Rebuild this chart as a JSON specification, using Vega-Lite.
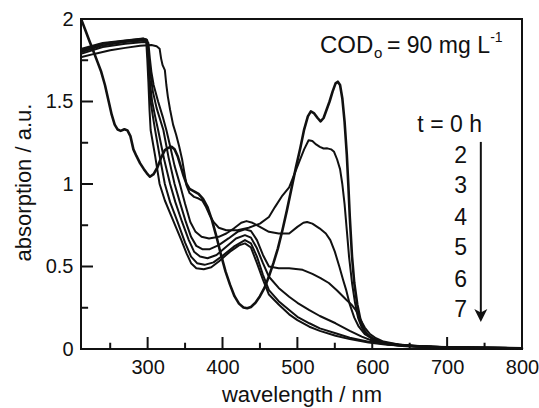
{
  "$schema": "https://vega.github.io/schema/vega-lite/v6.json",
  "width": 441,
  "height": 330,
  "autosize": {"type": "none"},
  "padding": {"left": 81, "top": 19, "right": 17, "bottom": 59},
  "background": "white",
  "config": {
    "view": {"stroke": "#111", "strokeWidth": 2},
    "font": "Liberation Sans",
    "axis": {"domain": false, "grid": false, "labelColor": "#111", "titleColor": "#111"}
  },
  "datasets": {
    "spectra": [
      {"t":0,"wl":212,"a":1.99},{"t":0,"wl":217,"a":1.93},{"t":0,"wl":222,"a":1.87},{"t":0,"wl":228,"a":1.80},{"t":0,"wl":233,"a":1.74},{"t":0,"wl":238,"a":1.68},{"t":0,"wl":243,"a":1.60},{"t":0,"wl":248,"a":1.50},{"t":0,"wl":252,"a":1.42},{"t":0,"wl":256,"a":1.36},{"t":0,"wl":260,"a":1.33},{"t":0,"wl":264,"a":1.322},{"t":0,"wl":269,"a":1.332},{"t":0,"wl":273,"a":1.325},{"t":0,"wl":277,"a":1.29},{"t":0,"wl":281,"a":1.21},{"t":0,"wl":285,"a":1.17},{"t":0,"wl":290,"a":1.125},{"t":0,"wl":295,"a":1.09},{"t":0,"wl":299,"a":1.065},{"t":0,"wl":303,"a":1.044},{"t":0,"wl":308,"a":1.06},{"t":0,"wl":313,"a":1.10},{"t":0,"wl":318,"a":1.16},{"t":0,"wl":323,"a":1.205},{"t":0,"wl":328,"a":1.22},{"t":0,"wl":332,"a":1.225},{"t":0,"wl":336,"a":1.21},{"t":0,"wl":340,"a":1.17},{"t":0,"wl":344,"a":1.11},{"t":0,"wl":348,"a":1.05},{"t":0,"wl":352,"a":1.0},{"t":0,"wl":356,"a":0.97},{"t":0,"wl":362,"a":0.955},{"t":0,"wl":368,"a":0.94},{"t":0,"wl":374,"a":0.91},{"t":0,"wl":380,"a":0.86},{"t":0,"wl":386,"a":0.78},{"t":0,"wl":392,"a":0.68},{"t":0,"wl":398,"a":0.57},{"t":0,"wl":404,"a":0.47},{"t":0,"wl":410,"a":0.39},{"t":0,"wl":416,"a":0.32},{"t":0,"wl":422,"a":0.275},{"t":0,"wl":428,"a":0.252},{"t":0,"wl":433,"a":0.247},{"t":0,"wl":438,"a":0.255},{"t":0,"wl":444,"a":0.28},{"t":0,"wl":450,"a":0.32},{"t":0,"wl":456,"a":0.37},{"t":0,"wl":462,"a":0.44},{"t":0,"wl":468,"a":0.52},{"t":0,"wl":474,"a":0.61},{"t":0,"wl":480,"a":0.72},{"t":0,"wl":486,"a":0.84},{"t":0,"wl":492,"a":0.97},{"t":0,"wl":498,"a":1.10},{"t":0,"wl":504,"a":1.22},{"t":0,"wl":509,"a":1.33},{"t":0,"wl":514,"a":1.41},{"t":0,"wl":518,"a":1.44},{"t":0,"wl":522,"a":1.43},{"t":0,"wl":527,"a":1.40},{"t":0,"wl":531,"a":1.38},{"t":0,"wl":535,"a":1.40},{"t":0,"wl":539,"a":1.45},{"t":0,"wl":543,"a":1.50},{"t":0,"wl":547,"a":1.56},{"t":0,"wl":551,"a":1.61},{"t":0,"wl":554,"a":1.62},{"t":0,"wl":557,"a":1.60},{"t":0,"wl":560,"a":1.52},{"t":0,"wl":563,"a":1.38},{"t":0,"wl":566,"a":1.18},{"t":0,"wl":568,"a":1.0},{"t":0,"wl":570,"a":0.80},{"t":0,"wl":573,"a":0.56},{"t":0,"wl":576,"a":0.40},{"t":0,"wl":580,"a":0.27},{"t":0,"wl":584,"a":0.18},{"t":0,"wl":589,"a":0.115},{"t":0,"wl":595,"a":0.08},{"t":0,"wl":602,"a":0.058},{"t":0,"wl":610,"a":0.043},{"t":0,"wl":620,"a":0.032},{"t":0,"wl":635,"a":0.022},{"t":0,"wl":655,"a":0.016},{"t":0,"wl":680,"a":0.012},{"t":0,"wl":720,"a":0.009},{"t":0,"wl":760,"a":0.007},{"t":0,"wl":800,"a":0.005},

      {"t":2,"wl":212,"a":1.77},{"t":2,"wl":230,"a":1.79},{"t":2,"wl":250,"a":1.81},{"t":2,"wl":270,"a":1.825},{"t":2,"wl":290,"a":1.838},{"t":2,"wl":305,"a":1.842},{"t":2,"wl":312,"a":1.835},{"t":2,"wl":316,"a":1.82},{"t":2,"wl":318,"a":1.76},{"t":2,"wl":320,"a":1.72},{"t":2,"wl":323,"a":1.69},{"t":2,"wl":325,"a":1.60},{"t":2,"wl":327,"a":1.53},{"t":2,"wl":330,"a":1.45},{"t":2,"wl":334,"a":1.36},{"t":2,"wl":338,"a":1.30},{"t":2,"wl":342,"a":1.23},{"t":2,"wl":346,"a":1.15},{"t":2,"wl":349,"a":1.07},{"t":2,"wl":352,"a":0.99},{"t":2,"wl":356,"a":0.945},{"t":2,"wl":362,"a":0.922},{"t":2,"wl":368,"a":0.912},{"t":2,"wl":373,"a":0.9},{"t":2,"wl":378,"a":0.86},{"t":2,"wl":383,"a":0.81},{"t":2,"wl":388,"a":0.77},{"t":2,"wl":395,"a":0.735},{"t":2,"wl":405,"a":0.72},{"t":2,"wl":420,"a":0.72},{"t":2,"wl":435,"a":0.735},{"t":2,"wl":450,"a":0.76},{"t":2,"wl":462,"a":0.80},{"t":2,"wl":470,"a":0.86},{"t":2,"wl":480,"a":0.93},{"t":2,"wl":489,"a":0.98},{"t":2,"wl":496,"a":1.06},{"t":2,"wl":502,"a":1.13},{"t":2,"wl":509,"a":1.21},{"t":2,"wl":515,"a":1.265},{"t":2,"wl":520,"a":1.26},{"t":2,"wl":525,"a":1.24},{"t":2,"wl":530,"a":1.225},{"t":2,"wl":535,"a":1.215},{"t":2,"wl":540,"a":1.216},{"t":2,"wl":545,"a":1.21},{"t":2,"wl":549,"a":1.195},{"t":2,"wl":553,"a":1.15},{"t":2,"wl":557,"a":1.09},{"t":2,"wl":560,"a":1.0},{"t":2,"wl":563,"a":0.88},{"t":2,"wl":566,"a":0.72},{"t":2,"wl":569,"a":0.56},{"t":2,"wl":573,"a":0.40},{"t":2,"wl":577,"a":0.28},{"t":2,"wl":581,"a":0.19},{"t":2,"wl":586,"a":0.13},{"t":2,"wl":592,"a":0.09},{"t":2,"wl":600,"a":0.065},{"t":2,"wl":610,"a":0.045},{"t":2,"wl":625,"a":0.03},{"t":2,"wl":645,"a":0.02},{"t":2,"wl":680,"a":0.013},{"t":2,"wl":720,"a":0.009},{"t":2,"wl":760,"a":0.007},{"t":2,"wl":800,"a":0.005},

      {"t":3,"wl":212,"a":1.79},{"t":3,"wl":240,"a":1.83},{"t":3,"wl":270,"a":1.85},{"t":3,"wl":295,"a":1.86},{"t":3,"wl":301,"a":1.855},{"t":3,"wl":303,"a":1.76},{"t":3,"wl":305,"a":1.68},{"t":3,"wl":308,"a":1.60},{"t":3,"wl":314,"a":1.50},{"t":3,"wl":320,"a":1.41},{"t":3,"wl":325,"a":1.327},{"t":3,"wl":330,"a":1.23},{"t":3,"wl":336,"a":1.11},{"t":3,"wl":343,"a":1.00},{"t":3,"wl":350,"a":0.88},{"t":3,"wl":357,"a":0.77},{"t":3,"wl":364,"a":0.71},{"t":3,"wl":372,"a":0.68},{"t":3,"wl":382,"a":0.67},{"t":3,"wl":395,"a":0.68},{"t":3,"wl":405,"a":0.70},{"t":3,"wl":415,"a":0.73},{"t":3,"wl":425,"a":0.765},{"t":3,"wl":432,"a":0.775},{"t":3,"wl":440,"a":0.765},{"t":3,"wl":450,"a":0.74},{"t":3,"wl":462,"a":0.71},{"t":3,"wl":475,"a":0.70},{"t":3,"wl":489,"a":0.70},{"t":3,"wl":500,"a":0.74},{"t":3,"wl":508,"a":0.765},{"t":3,"wl":513,"a":0.77},{"t":3,"wl":520,"a":0.76},{"t":3,"wl":530,"a":0.73},{"t":3,"wl":538,"a":0.70},{"t":3,"wl":544,"a":0.66},{"t":3,"wl":550,"a":0.59},{"t":3,"wl":556,"a":0.50},{"t":3,"wl":561,"a":0.42},{"t":3,"wl":565,"a":0.36},{"t":3,"wl":570,"a":0.27},{"t":3,"wl":576,"a":0.19},{"t":3,"wl":582,"a":0.135},{"t":3,"wl":590,"a":0.09},{"t":3,"wl":600,"a":0.062},{"t":3,"wl":615,"a":0.04},{"t":3,"wl":640,"a":0.025},{"t":3,"wl":680,"a":0.014},{"t":3,"wl":740,"a":0.008},{"t":3,"wl":800,"a":0.005},

      {"t":4,"wl":212,"a":1.80},{"t":4,"wl":240,"a":1.84},{"t":4,"wl":270,"a":1.86},{"t":4,"wl":295,"a":1.87},{"t":4,"wl":300,"a":1.865},{"t":4,"wl":302,"a":1.75},{"t":4,"wl":304,"a":1.66},{"t":4,"wl":307,"a":1.56},{"t":4,"wl":312,"a":1.46},{"t":4,"wl":321,"a":1.327},{"t":4,"wl":328,"a":1.16},{"t":4,"wl":336,"a":1.00},{"t":4,"wl":343,"a":0.89},{"t":4,"wl":351,"a":0.77},{"t":4,"wl":358,"a":0.68},{"t":4,"wl":365,"a":0.625},{"t":4,"wl":373,"a":0.605},{"t":4,"wl":383,"a":0.605},{"t":4,"wl":395,"a":0.63},{"t":4,"wl":408,"a":0.67},{"t":4,"wl":420,"a":0.71},{"t":4,"wl":430,"a":0.725},{"t":4,"wl":438,"a":0.715},{"t":4,"wl":446,"a":0.66},{"t":4,"wl":454,"a":0.57},{"t":4,"wl":462,"a":0.50},{"t":4,"wl":475,"a":0.49},{"t":4,"wl":489,"a":0.49},{"t":4,"wl":507,"a":0.48},{"t":4,"wl":520,"a":0.455},{"t":4,"wl":531,"a":0.43},{"t":4,"wl":542,"a":0.40},{"t":4,"wl":553,"a":0.355},{"t":4,"wl":565,"a":0.30},{"t":4,"wl":572,"a":0.27},{"t":4,"wl":578,"a":0.236},{"t":4,"wl":584,"a":0.18},{"t":4,"wl":590,"a":0.13},{"t":4,"wl":597,"a":0.09},{"t":4,"wl":605,"a":0.065},{"t":4,"wl":615,"a":0.045},{"t":4,"wl":635,"a":0.028},{"t":4,"wl":660,"a":0.018},{"t":4,"wl":700,"a":0.011},{"t":4,"wl":750,"a":0.007},{"t":4,"wl":800,"a":0.005},

      {"t":5,"wl":212,"a":1.81},{"t":5,"wl":240,"a":1.85},{"t":5,"wl":270,"a":1.865},{"t":5,"wl":294,"a":1.878},{"t":5,"wl":299,"a":1.87},{"t":5,"wl":301,"a":1.76},{"t":5,"wl":303,"a":1.62},{"t":5,"wl":306,"a":1.50},{"t":5,"wl":310,"a":1.41},{"t":5,"wl":314,"a":1.327},{"t":5,"wl":322,"a":1.15},{"t":5,"wl":330,"a":1.00},{"t":5,"wl":337,"a":0.89},{"t":5,"wl":346,"a":0.77},{"t":5,"wl":355,"a":0.66},{"t":5,"wl":362,"a":0.59},{"t":5,"wl":370,"a":0.56},{"t":5,"wl":380,"a":0.55},{"t":5,"wl":392,"a":0.57},{"t":5,"wl":405,"a":0.62},{"t":5,"wl":418,"a":0.67},{"t":5,"wl":430,"a":0.69},{"t":5,"wl":438,"a":0.675},{"t":5,"wl":446,"a":0.61},{"t":5,"wl":454,"a":0.52},{"t":5,"wl":462,"a":0.438},{"t":5,"wl":475,"a":0.37},{"t":5,"wl":489,"a":0.317},{"t":5,"wl":500,"a":0.28},{"t":5,"wl":516,"a":0.236},{"t":5,"wl":530,"a":0.20},{"t":5,"wl":551,"a":0.156},{"t":5,"wl":570,"a":0.11},{"t":5,"wl":586,"a":0.075},{"t":5,"wl":600,"a":0.05},{"t":5,"wl":620,"a":0.032},{"t":5,"wl":660,"a":0.017},{"t":5,"wl":700,"a":0.01},{"t":5,"wl":750,"a":0.007},{"t":5,"wl":800,"a":0.005},

      {"t":6,"wl":212,"a":1.81},{"t":6,"wl":240,"a":1.85},{"t":6,"wl":270,"a":1.868},{"t":6,"wl":294,"a":1.88},{"t":6,"wl":299,"a":1.875},{"t":6,"wl":300.5,"a":1.76},{"t":6,"wl":302,"a":1.62},{"t":6,"wl":304,"a":1.50},{"t":6,"wl":307,"a":1.41},{"t":6,"wl":310,"a":1.327},{"t":6,"wl":316,"a":1.17},{"t":6,"wl":323,"a":1.00},{"t":6,"wl":330,"a":0.89},{"t":6,"wl":340,"a":0.77},{"t":6,"wl":350,"a":0.645},{"t":6,"wl":358,"a":0.56},{"t":6,"wl":366,"a":0.52},{"t":6,"wl":376,"a":0.51},{"t":6,"wl":388,"a":0.525},{"t":6,"wl":400,"a":0.565},{"t":6,"wl":415,"a":0.62},{"t":6,"wl":430,"a":0.66},{"t":6,"wl":438,"a":0.64},{"t":6,"wl":446,"a":0.56},{"t":6,"wl":454,"a":0.45},{"t":6,"wl":462,"a":0.357},{"t":6,"wl":475,"a":0.29},{"t":6,"wl":489,"a":0.236},{"t":6,"wl":500,"a":0.195},{"t":6,"wl":516,"a":0.156},{"t":6,"wl":530,"a":0.125},{"t":6,"wl":551,"a":0.095},{"t":6,"wl":570,"a":0.068},{"t":6,"wl":595,"a":0.044},{"t":6,"wl":620,"a":0.028},{"t":6,"wl":660,"a":0.016},{"t":6,"wl":700,"a":0.01},{"t":6,"wl":750,"a":0.007},{"t":6,"wl":800,"a":0.005},

      {"t":7,"wl":212,"a":1.82},{"t":7,"wl":240,"a":1.855},{"t":7,"wl":270,"a":1.87},{"t":7,"wl":294,"a":1.882},{"t":7,"wl":298,"a":1.876},{"t":7,"wl":299.5,"a":1.76},{"t":7,"wl":301,"a":1.62},{"t":7,"wl":302.5,"a":1.45},{"t":7,"wl":304,"a":1.327},{"t":7,"wl":310,"a":1.17},{"t":7,"wl":316,"a":1.00},{"t":7,"wl":323,"a":0.90},{"t":7,"wl":334,"a":0.78},{"t":7,"wl":345,"a":0.66},{"t":7,"wl":352,"a":0.58},{"t":7,"wl":358,"a":0.52},{"t":7,"wl":365,"a":0.49},{"t":7,"wl":375,"a":0.483},{"t":7,"wl":385,"a":0.495},{"t":7,"wl":395,"a":0.53},{"t":7,"wl":410,"a":0.59},{"t":7,"wl":422,"a":0.628},{"t":7,"wl":430,"a":0.64},{"t":7,"wl":438,"a":0.615},{"t":7,"wl":446,"a":0.52},{"t":7,"wl":454,"a":0.42},{"t":7,"wl":462,"a":0.33},{"t":7,"wl":475,"a":0.27},{"t":7,"wl":489,"a":0.21},{"t":7,"wl":500,"a":0.175},{"t":7,"wl":516,"a":0.135},{"t":7,"wl":530,"a":0.11},{"t":7,"wl":551,"a":0.08},{"t":7,"wl":570,"a":0.06},{"t":7,"wl":595,"a":0.04},{"t":7,"wl":620,"a":0.025},{"t":7,"wl":660,"a":0.015},{"t":7,"wl":700,"a":0.009},{"t":7,"wl":750,"a":0.006},{"t":7,"wl":800,"a":0.004}
    ],
    "arrow": [{"x": 745, "top": 1.255, "bottom": 0.203}],
    "xmajor": [{"v": 300}, {"v": 400}, {"v": 500}, {"v": 600}, {"v": 700}],
    "xminor": [{"v": 250}, {"v": 350}, {"v": 450}, {"v": 550}, {"v": 650}, {"v": 750}],
    "ymajor": [{"v": 0.5}, {"v": 1}, {"v": 1.5}],
    "yminor": [{"v": 0.25}, {"v": 0.75}, {"v": 1.25}, {"v": 1.75}],
    "timelabels": [
      {"label": "2", "x": 726.5, "y": 1.127},
      {"label": "3", "x": 726.5, "y": 0.945},
      {"label": "4", "x": 726.5, "y": 0.752},
      {"label": "5", "x": 726.5, "y": 0.570},
      {"label": "6", "x": 726.5, "y": 0.376},
      {"label": "7", "x": 726.5, "y": 0.194}
    ],
    "thead": [{"label": "t = 0 h", "x": 746.5, "y": 1.315}],
    "codbig": [{"label": "COD", "x": 530.2, "y": 1.796}],
    "codmain": [{"label": "= 90 mg L", "x": 619.7, "y": 1.796}],
    "codsub": [{"label": "o", "x": 602.4, "y": 1.762}],
    "codsup": [{"label": "-1", "x": 757.5, "y": 1.858}]
  },
  "layer": [
    {
      "data": {"name": "spectra"},
      "mark": {"type": "line", "color": "#111", "strokeJoin": "round", "strokeCap": "round"},
      "encoding": {
        "x": {"field": "wl", "type": "quantitative",
          "scale": {"domain": [211, 800], "nice": false, "zero": false},
          "axis": {"orient": "bottom", "values": [300, 400, 500, 600, 700, 800], "format": "d", "ticks": false, "tickSize": 0,
            "labelPadding": 24, "labelBaseline": "alphabetic", "labelFontSize": 20, "labelFlush": false, "labelOverlap": false,
            "title": "wavelength / nm", "titleFontSize": 22, "titleFontWeight": "normal", "titleY": 52, "titleBaseline": "alphabetic"}},
        "y": {"field": "a", "type": "quantitative",
          "scale": {"domain": [0, 2], "nice": false, "zero": false},
          "axis": {"orient": "left", "values": [0, 0.5, 1, 1.5, 2], "format": "~g", "ticks": false, "tickSize": 0,
            "labelPadding": 8, "labelFontSize": 20, "labelFlush": false, "labelOverlap": false,
            "title": "absorption / a.u.", "titleFontSize": 22, "titleFontWeight": "normal", "titleAngle": -90,
            "titleX": -51, "titleY": 163, "titleBaseline": "alphabetic", "titleAlign": "center"}},
        "detail": {"field": "t", "type": "nominal"},
        "strokeWidth": {"condition": {"test": "datum.t === 0", "value": 2.6}, "value": 2}
      }
    },
    {
      "data": {"name": "xmajor"},
      "mark": {"type": "rule", "color": "#111", "strokeWidth": 2},
      "encoding": {
        "x": {"field": "v", "type": "quantitative", "scale": {"domain": [211, 800], "nice": false, "zero": false}},
        "y": {"datum": 0, "type": "quantitative", "scale": {"domain": [0, 2], "nice": false, "zero": false}},
        "y2": {"datum": 0.0727}
      }
    },
    {
      "data": {"name": "xminor"},
      "mark": {"type": "rule", "color": "#111", "strokeWidth": 2},
      "encoding": {
        "x": {"field": "v", "type": "quantitative", "scale": {"domain": [211, 800], "nice": false, "zero": false}},
        "y": {"datum": 0, "type": "quantitative", "scale": {"domain": [0, 2], "nice": false, "zero": false}},
        "y2": {"datum": 0.038}
      }
    },
    {
      "data": {"name": "ymajor"},
      "mark": {"type": "rule", "color": "#111", "strokeWidth": 2},
      "encoding": {
        "y": {"field": "v", "type": "quantitative", "scale": {"domain": [0, 2], "nice": false, "zero": false}},
        "x": {"datum": 211, "type": "quantitative", "scale": {"domain": [211, 800], "nice": false, "zero": false}},
        "x2": {"datum": 227}
      }
    },
    {
      "data": {"name": "yminor"},
      "mark": {"type": "rule", "color": "#111", "strokeWidth": 2},
      "encoding": {
        "y": {"field": "v", "type": "quantitative", "scale": {"domain": [0, 2], "nice": false, "zero": false}},
        "x": {"datum": 211, "type": "quantitative", "scale": {"domain": [211, 800], "nice": false, "zero": false}},
        "x2": {"datum": 220.5}
      }
    },
    {
      "data": {"name": "arrow"},
      "mark": {"type": "rule", "color": "#111", "strokeWidth": 2},
      "encoding": {
        "x": {"field": "x", "type": "quantitative", "scale": {"domain": [211, 800], "nice": false, "zero": false}},
        "y": {"field": "top", "type": "quantitative", "scale": {"domain": [0, 2], "nice": false, "zero": false}},
        "y2": {"field": "bottom"}
      }
    },
    {
      "data": {"name": "arrow"},
      "mark": {"type": "point", "shape": "M-1,-1L0,1L1,-1L0,-0.45Z", "filled": true, "color": "#111", "opacity": 1, "size": 169},
      "encoding": {
        "x": {"field": "x", "type": "quantitative", "scale": {"domain": [211, 800], "nice": false, "zero": false}},
        "y": {"field": "bottom", "type": "quantitative", "scale": {"domain": [0, 2], "nice": false, "zero": false}}
      }
    },
    {
      "data": {"name": "timelabels"},
      "mark": {"type": "text", "align": "right", "baseline": "alphabetic", "fontSize": 23, "color": "#111"},
      "encoding": {
        "x": {"field": "x", "type": "quantitative", "scale": {"domain": [211, 800], "nice": false, "zero": false}},
        "y": {"field": "y", "type": "quantitative", "scale": {"domain": [0, 2], "nice": false, "zero": false}},
        "text": {"field": "label"}
      }
    },
    {
      "data": {"name": "thead"},
      "mark": {"type": "text", "align": "right", "baseline": "alphabetic", "fontSize": 23, "color": "#111"},
      "encoding": {
        "x": {"field": "x", "type": "quantitative", "scale": {"domain": [211, 800], "nice": false, "zero": false}},
        "y": {"field": "y", "type": "quantitative", "scale": {"domain": [0, 2], "nice": false, "zero": false}},
        "text": {"field": "label"}
      }
    },
    {
      "data": {"name": "codbig"},
      "mark": {"type": "text", "align": "left", "baseline": "alphabetic", "fontSize": 24, "color": "#111"},
      "encoding": {
        "x": {"field": "x", "type": "quantitative", "scale": {"domain": [211, 800], "nice": false, "zero": false}},
        "y": {"field": "y", "type": "quantitative", "scale": {"domain": [0, 2], "nice": false, "zero": false}},
        "text": {"field": "label"}
      }
    },
    {
      "data": {"name": "codmain"},
      "mark": {"type": "text", "align": "left", "baseline": "alphabetic", "fontSize": 23, "color": "#111"},
      "encoding": {
        "x": {"field": "x", "type": "quantitative", "scale": {"domain": [211, 800], "nice": false, "zero": false}},
        "y": {"field": "y", "type": "quantitative", "scale": {"domain": [0, 2], "nice": false, "zero": false}},
        "text": {"field": "label"}
      }
    },
    {
      "data": {"name": "codsub"},
      "mark": {"type": "text", "align": "left", "baseline": "alphabetic", "fontSize": 15, "color": "#111"},
      "encoding": {
        "x": {"field": "x", "type": "quantitative", "scale": {"domain": [211, 800], "nice": false, "zero": false}},
        "y": {"field": "y", "type": "quantitative", "scale": {"domain": [0, 2], "nice": false, "zero": false}},
        "text": {"field": "label"}
      }
    },
    {
      "data": {"name": "codsup"},
      "mark": {"type": "text", "align": "left", "baseline": "alphabetic", "fontSize": 14, "color": "#111"},
      "encoding": {
        "x": {"field": "x", "type": "quantitative", "scale": {"domain": [211, 800], "nice": false, "zero": false}},
        "y": {"field": "y", "type": "quantitative", "scale": {"domain": [0, 2], "nice": false, "zero": false}},
        "text": {"field": "label"}
      }
    }
  ]
}
